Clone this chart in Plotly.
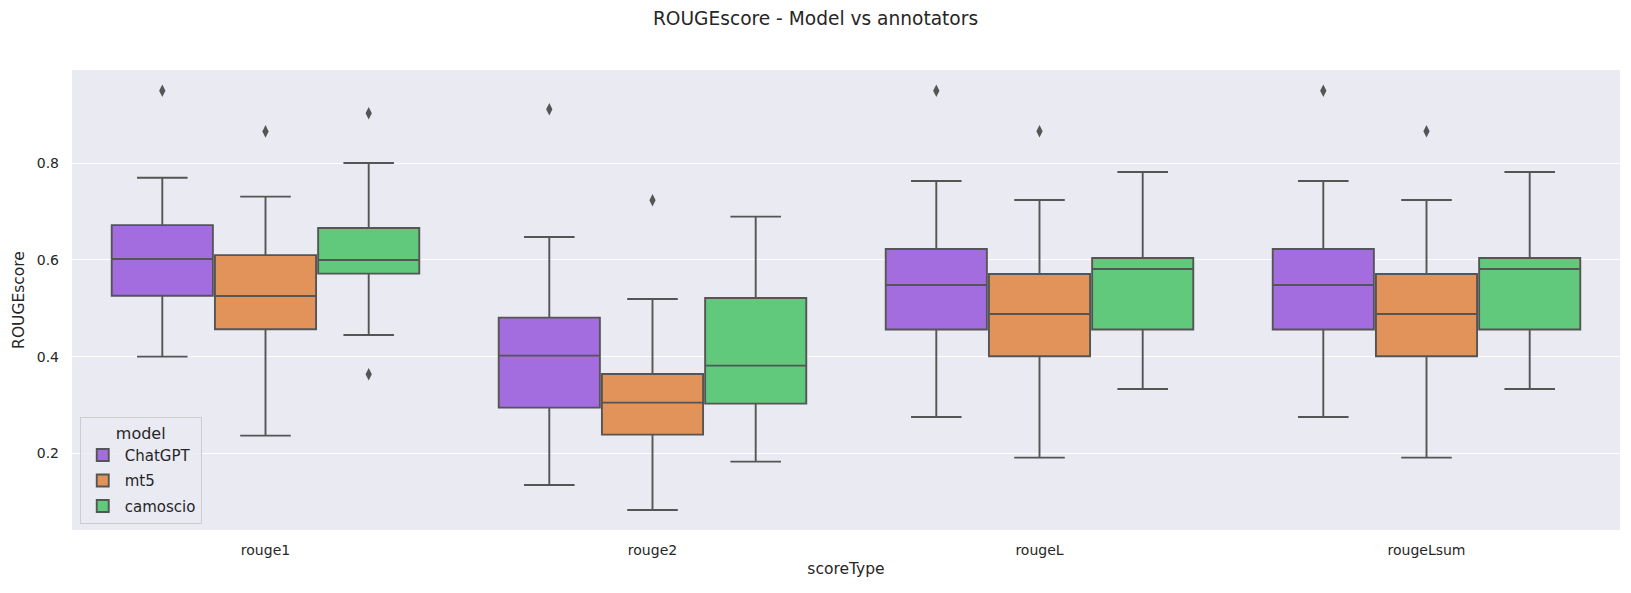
import plotly.graph_objects as go

categories = ["rouge1", "rouge2", "rougeL", "rougeLsum"]
models = ["ChatGPT", "mt5", "camoscio"]
colors = ["#a46ddf", "#e1935a", "#60c97b"]

# per model: values for each category
q1 = {
    "ChatGPT": [0.526, 0.2945, 0.456, 0.456],
    "mt5": [0.4566, 0.2386, 0.4007, 0.4007],
    "camoscio": [0.5717, 0.3028, 0.456, 0.456],
}
median = {
    "ChatGPT": [0.602, 0.402, 0.5483, 0.5483],
    "mt5": [0.5255, 0.3048, 0.4883, 0.4883],
    "camoscio": [0.600, 0.3814, 0.5814, 0.5814],
}
q3 = {
    "ChatGPT": [0.672, 0.4807, 0.6228, 0.6228],
    "mt5": [0.610, 0.3641, 0.571, 0.571],
    "camoscio": [0.666, 0.5214, 0.6041, 0.6041],
}
lower = {
    "ChatGPT": [0.400, 0.1345, 0.2752, 0.2752],
    "mt5": [0.2366, 0.0828, 0.1910, 0.1910],
    "camoscio": [0.4448, 0.1828, 0.3331, 0.3331],
}
upper = {
    "ChatGPT": [0.770, 0.6476, 0.7634, 0.7634],
    "mt5": [0.731, 0.5193, 0.7241, 0.7241],
    "camoscio": [0.8007, 0.6897, 0.7821, 0.7821],
}
outliers = {
    "ChatGPT": [[0.950], [0.9117], [0.950], [0.950]],
    "mt5": [[0.866], [0.7234], [0.8662], [0.8662]],
    "camoscio": [[0.9034, 0.3634], [], [], []],
}

LINE = "#555555"
group_w = 0.8
n = len(models)
box_w = group_w / n * 0.98

fig = go.Figure()
for j, m in enumerate(models):
    off = -group_w / 2 + group_w / n * (j + 0.5)
    xs = [i + off for i in range(len(categories))]
    fig.add_trace(go.Box(
        name=m, x=xs, q1=q1[m], median=median[m], q3=q3[m],
        lowerfence=lower[m], upperfence=upper[m],
        width=box_w, whiskerwidth=0.5,
        fillcolor=colors[j], line=dict(color=LINE, width=1.9),
        boxpoints=False, legendgroup=m, showlegend=True,
    ))
    ox, oy = [], []
    for i, vals in enumerate(outliers[m]):
        for v in vals:
            ox.append(i + off)
            oy.append(v)
    fig.add_trace(go.Scatter(
        x=ox, y=oy, mode="markers", showlegend=False, legendgroup=m,
        marker=dict(symbol="diamond-tall", size=9, color=LINE),
    ))

fig.update_layout(
    width=1631, height=593,
    paper_bgcolor="white", plot_bgcolor="#eaeaf2",
    font=dict(family="DejaVu Sans", color="#262626", size=14),
    margin=dict(l=72, r=11, t=70, b=63),
    title=dict(text="ROUGEscore - Model vs annotators", x=0.5, xref="container",
               y=1 - 18 / 593, yref="container", yanchor="middle", xanchor="center",
               font=dict(size=18.6, color="#262626")),
    legend=dict(
        title=dict(text="model", side="top center", font=dict(size=16)),
        x=0.005, y=0.013, xanchor="left", yanchor="bottom",
        bgcolor="rgba(234,234,242,0.8)", bordercolor="#cccccc", borderwidth=1,
        font=dict(size=15), itemwidth=34, tracegroupgap=3,
    ),
    showlegend=True,
)
fig.update_xaxes(
    range=[-0.5, 3.5], tickmode="array", tickvals=list(range(len(categories))),
    ticktext=categories, showgrid=False, zeroline=False, showline=False,
    ticks="", ticklabelstandoff=10,
    title=dict(text="scoreType", font=dict(size=15.5), standoff=6),
)
fig.update_yaxes(
    range=[0.0413, 0.993], tickvals=[0.2, 0.4, 0.6, 0.8],
    ticktext=["0.2", "0.4", "0.6", "0.8"],
    showgrid=True, gridcolor="white", gridwidth=1.2, zeroline=False, showline=False,
    ticks="", ticklabelstandoff=12,
    title=dict(text="ROUGEscore", font=dict(size=15.5), standoff=8),
)

fig.write_html("out.html")
